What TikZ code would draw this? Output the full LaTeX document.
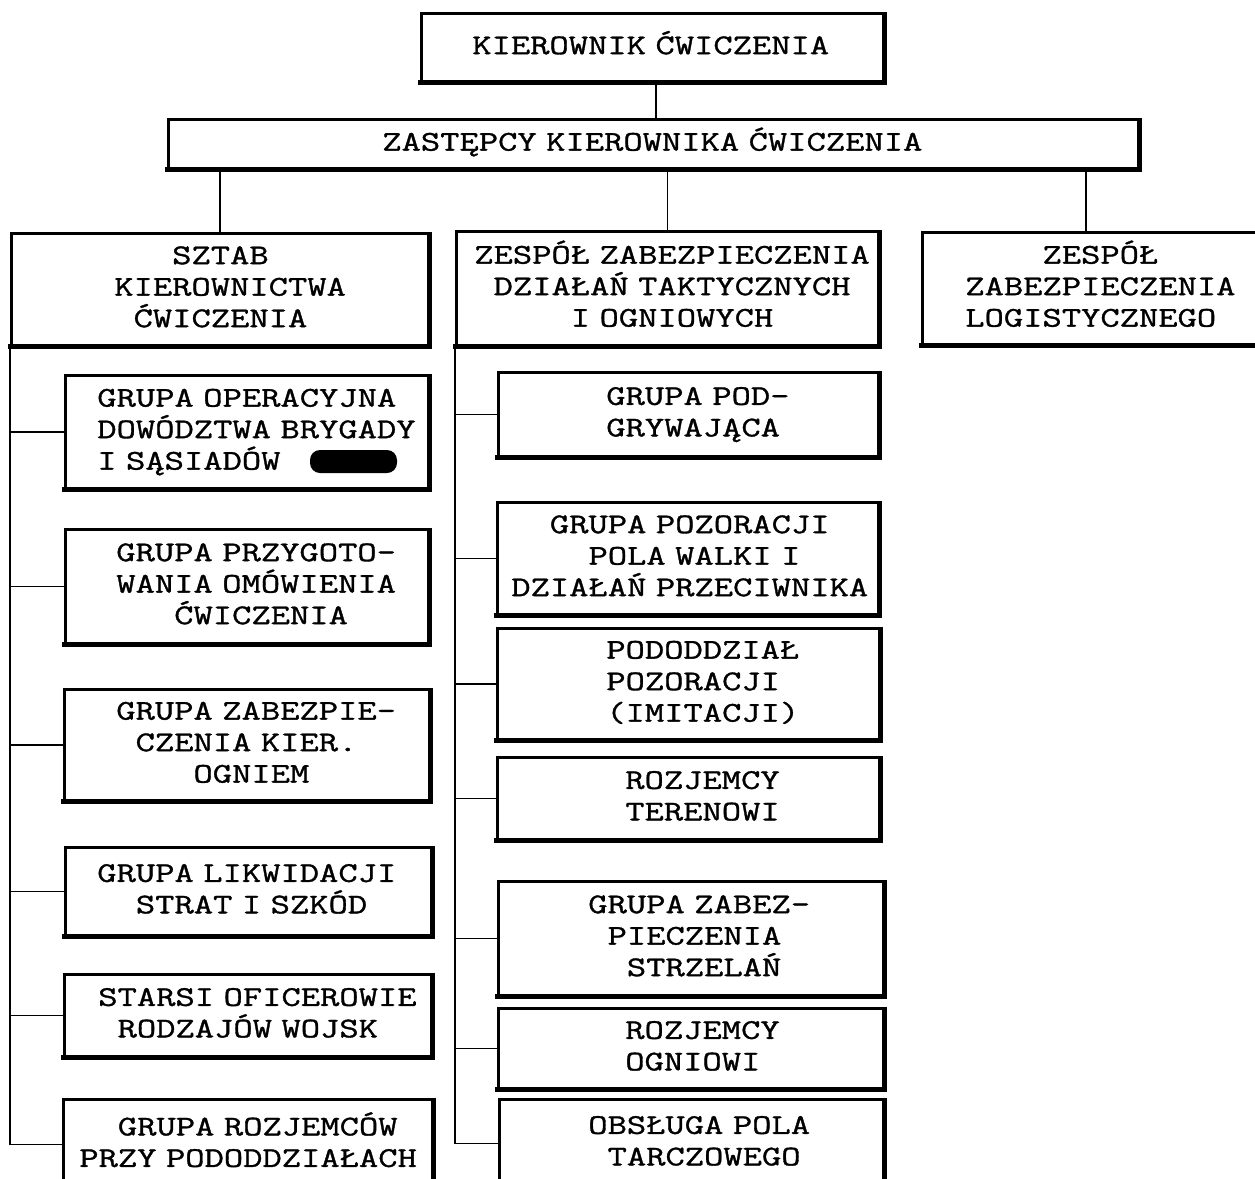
\documentclass[tikz,border=0pt]{standalone}
\usepackage{fontspec}
\newfontfamily\tw{Latin Modern Mono}[FakeStretch=1.315,FakeBold=1.2]
\newlength\cw
\newcommand\twfont{\tw\fontsize{14.25pt}{15.75pt}\selectfont\settowidth\cw{A}\spaceskip=\cw\relax\lineskiplimit=-30pt\lineskip=0pt\relax}
\newcommand\Tx[3]{\hspace*{#1pt}\hspace*{#2\cw}\mbox{\strut #3}}
\begin{document}
\begin{tikzpicture}[x=0.5pt,y=-0.5pt,
  bx/.style={draw, line width=1.3pt, inner xsep=0pt, inner ysep=0pt, align=left,
    anchor=north west, font=\twfont},
  con/.style={line width=0.8pt},
  heavy/.style={line width=2.3pt, line cap=rect}]
\useasboundingbox (0,0) rectangle (1255,1179);
\clip (0,0) rectangle (1255,1179);
% top levels
\node[bx, text width=231pt, minimum height=34pt] (k) at (420,12) {\Tx{25.5}{0}{KIEROWNIK ĆWICZENIA}};
\node[bx, text width=485pt, minimum height=24.5pt] (z) at (167,118) {\Tx{107}{0}{ZASTĘPCY KIEROWNIKA ĆWICZENIA}};
\node[bx, text width=208.5pt, minimum height=56pt] (sztab) at (10,232) {\Tx{51.5}{3}{SZTAB}\\\Tx{51.5}{0}{KIEROWNICTWA}\\\Tx{51.5}{1}{ĆWICZENIA}};
\node[bx, text width=211pt, minimum height=57pt] (zd) at (455,230) {\Tx{9}{0}{ZESPÓŁ ZABEZPIECZENIA}\\\Tx{9}{1}{DZIAŁAŃ TAKTYCZNYCH}\\\Tx{9}{5}{I OGNIOWYCH}};
\node[bx, text width=175pt, minimum height=56pt] (log) at (921,231) {\Tx{21.5}{4}{ZESPÓŁ}\\\Tx{21.5}{0}{ZABEZPIECZENIA}\\\Tx{21.5}{0}{LOGISTYCZNEGO}};
% left column
\node[bx, text width=181.5pt, minimum height=56.5pt] (c1) at (64,374) {\Tx{16}{0}{GRUPA OPERACYJNA}\\\Tx{16}{0}{DOWÓDZTWA BRYGADY}\\\Tx{16}{0}{I SĄSIADÓW}};
\node[bx, text width=181.5pt, minimum height=57pt] (c2) at (64,528) {\Tx{25.5}{0}{GRUPA PRZYGOTO-}\\\Tx{25.5}{0}{WANIA OMÓWIENIA}\\\Tx{25.5}{3}{ĆWICZENIA}};
\node[bx, text width=182.5pt, minimum height=55.5pt] (c3) at (63,688) {\Tx{26}{0}{GRUPA ZABEZPIE-}\\\Tx{26}{1}{CZENIA KIER.}\\\Tx{26}{4}{OGNIEM}};
\node[bx, text width=183pt, minimum height=44pt] (c4) at (64,846) {\Tx{16}{0}{GRUPA LIKWIDACJI}\\\Tx{16}{2}{STRAT I SZKÓD}};
\node[bx, text width=183.5pt, minimum height=41pt] (c5) at (63,973) {\Tx{17}{0}{STARSI OFICEROWIE}\\\Tx{17}{1}{RODZAJÓW WOJSK}};
\node[bx, text width=184.5pt, minimum height=45pt] (c6) at (62,1098) {\Tx{8}{2}{GRUPA ROZJEMCÓW}\\\Tx{8}{0}{PRZY PODODDZIAŁACH}};
% middle column
\node[bx, text width=190pt, minimum height=42pt] (m1) at (497,371) {\Tx{54}{0}{GRUPA POD-}\\\Tx{54}{0}{GRYWAJĄCA}};
\node[bx, text width=190.5pt, minimum height=56pt] (m2) at (496,501) {\Tx{7}{2}{GRUPA POZORACJI}\\\Tx{7}{4}{POLA WALKI I}\\\Tx{7}{0}{DZIAŁAŃ PRZECIWNIKA}};
\node[bx, text width=191pt, minimum height=55.5pt] (m3) at (496,627) {\Tx{54.5}{0}{PODODDZIAŁ}\\\Tx{54.5}{0}{POZORACJI}\\\Tx{54.5}{0}{(IMITACJI)}};
\node[bx, text width=191pt, minimum height=41pt] (m4) at (496,756) {\Tx{64}{0}{ROZJEMCY}\\\Tx{64}{0}{TERENOWI}};
\node[bx, text width=192.5pt, minimum height=57pt] (m5) at (497,880) {\Tx{45}{0}{GRUPA ZABEZ-}\\\Tx{45}{1}{PIECZENIA}\\\Tx{45}{2}{STRZELAŃ}};
\node[bx, text width=192.5pt, minimum height=40pt] (m6) at (497,1007) {\Tx{63.5}{0}{ROZJEMCY}\\\Tx{63.5}{0}{OGNIOWI}};
\node[bx, text width=192pt, minimum height=44pt] (m7) at (498,1098) {\Tx{44.5}{0}{OBSŁUGA POLA}\\\Tx{44.5}{1}{TARCZOWEGO}};
% redaction blot
\fill[rounded corners=5] (310,450) rectangle (397,473);
% heavy bottom edges
\foreach \n in {k,z,sztab,zd,log,c1,c2,c3,c4,c5,c6,m1,m2,m3,m4,m5,m6,m7}
  \draw[heavy] (\n.south west) -- (\n.south east) -- ([yshift=-1pt]\n.north east);
% connectors
\coordinate (xk) at (656,0);
\coordinate (xl) at (1086,0);
\draw[con] (k.south -| xk) -- (z.north -| xk);
\draw[con] (z.south -| sztab.north) -- (sztab.north);
\draw[con] (z.south -| zd.north) -- (zd.north);
\draw[con] (z.south -| xl) -- (log.north -| xl);
\foreach \c in {c1,c2,c3,c4,c5,c6}
  \draw[con] (sztab.south west) |- (\c.west);
\foreach \c in {m1,m2,m3,m4,m5,m6,m7}
  \draw[con] (zd.south west) |- (\c.west);
\end{tikzpicture}
\end{document}
